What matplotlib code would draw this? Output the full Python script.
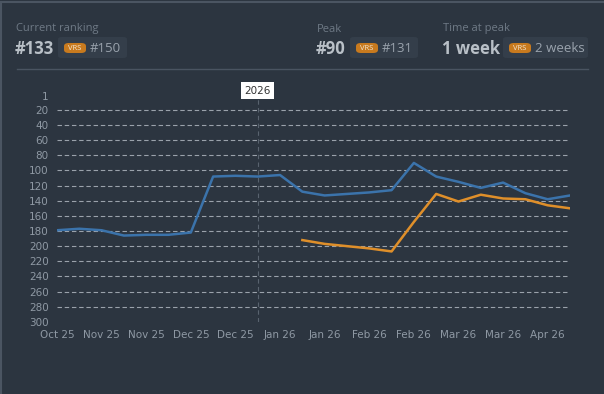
import numpy as np
import matplotlib
matplotlib.use("Agg")
import matplotlib.pyplot as plt
from matplotlib.patches import FancyBboxPatch

# dane
x_labels = ["Oct 25", "Nov 25", "Nov 25", "Dec 25", "Dec 25", "Jan 26",
            "Jan 26", "Feb 26", "Feb 26", "Mar 26", "Mar 26", "Apr 26"]
rank_main = [179, 177, 179, 186, 185, 185, 182, 108, 107, 108, 106, 128,
             133, 131, 129, 126, 90, 108, 115, 123, 116, 130, 138, 133]
rank_vrs = [None] * 11 + [192, 197, 200, 203, 207, 168, 131, 141, 132,
                          137, 138, 146, 150]
y_ticks = [1, 20, 40, 60, 80, 100, 120, 140, 160, 180, 200, 220, 240, 260, 280, 300]
year_mark = 9
year_label = "2026"

stats_titles = ["Current ranking", "Peak", "Time at peak"]
stats_main = ["#133", "#90", "1 week"]
stats_vrs = ["#150", "#131", "2 weeks"]

BG = "#2c3540"
BLUE = "#3b73ab"
ORANGE = "#df8f2a"
GRID = "#9aa2ab"
TXT = "#8f99a4"
HFONT = ["Open Sans", "DejaVu Sans"]

W, H = 604, 394
fig = plt.figure(figsize=(W / 100, H / 100), dpi=100)
fig.patch.set_facecolor(BG)


def fx(px):
    return px / W


def fy(py):
    return 1 - py / H


# ramka panelu
fig.add_artist(plt.Line2D([fx(1), fx(1)], [0, fy(2)], color="#4b5562", lw=1.5))
fig.add_artist(plt.Line2D([fx(1), 1], [fy(2), fy(2)], color="#4b5562", lw=1.5))

# naglowek
col_x = [16, 317, 443]
box_x = [58, 350, 503]
box_w = [69, 68, 85]
for i in range(3):
    x0 = col_x[i]
    fig.text(fx(x0), fy(29), stats_titles[i], color="#6f7a86", fontsize=8,
             va="center", ha="left", family=HFONT)
    fig.text(fx(x0 - 1), fy(49), stats_main[i], color="#b9c0c7", fontsize=12,
             fontweight="bold", va="center", ha="left", family=HFONT)
    bx = box_x[i]
    fig.add_artist(FancyBboxPatch((fx(bx), fy(58)), fx(box_w[i]), 21 / H,
                                  boxstyle="round,pad=0,rounding_size=0.006",
                                  transform=fig.transFigure, facecolor="#343e4a",
                                  edgecolor="none"))
    fig.add_artist(FancyBboxPatch((fx(bx + 6), fy(53)), fx(22), 10 / H,
                                  boxstyle="round,pad=0,rounding_size=0.008",
                                  transform=fig.transFigure, facecolor="#c87a1e",
                                  edgecolor="none"))
    fig.text(fx(bx + 17), fy(49), "VRS", color="#f3e6d3", fontsize=5.5,
             va="center", ha="center", family=HFONT)
    fig.text(fx(bx + 32), fy(49), stats_vrs[i], color="#9aa3ad", fontsize=9.5,
             va="center", ha="left", family=HFONT)

fig.add_artist(plt.Line2D([fx(17), fx(588)], [fy(69), fy(69)], color="#4a5461", lw=1))

# wykres
ax = fig.add_axes([fx(57), fy(321.8), fx(513), (321.8 - 95.6) / H])
ax.set_facecolor(BG)
x = np.arange(len(rank_main))
vrs = np.array([np.nan if v is None else v for v in rank_vrs], dtype=float)

grid_vals = [v for v in y_ticks if v not in (1, 300)]
ax.hlines(grid_vals, 0, len(x) - 1, colors=GRID, linestyles=(0, (4, 2.5)), lw=0.8, zorder=1)
ax.axvline(year_mark, ymin=0, ymax=1, color="#59636f", lw=0.8,
           linestyle=(0, (4, 3)), zorder=1)

ax.plot(x, rank_main, color=BLUE, lw=1.8, zorder=3)
ax.plot(x, vrs, color=ORANGE, lw=1.8, zorder=3)

ax.set_xlim(0, len(x) - 1)
ax.set_ylim(300, 1)
ax.set_yticks(y_ticks)
ax.set_xticks(np.arange(0, len(x_labels) * 2, 2))
ax.set_xticklabels(x_labels)
ax.tick_params(axis="both", length=0, colors=TXT, labelsize=7.5)
ax.tick_params(axis="y", pad=6)
ax.tick_params(axis="x", pad=6)
for s in ax.spines.values():
    s.set_visible(False)

ax.text(year_mark, 1, year_label, transform=ax.transData, ha="center", va="bottom",
        fontsize=7.5, color="#333333",
        bbox=dict(boxstyle="square,pad=0.3", facecolor="white", edgecolor="none"))

fig.savefig("out.png", dpi=100, facecolor=BG)
